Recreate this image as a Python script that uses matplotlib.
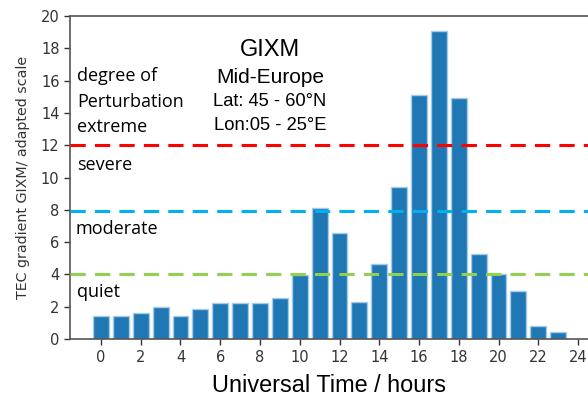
import matplotlib
matplotlib.use("Agg")
import matplotlib.pyplot as plt

hours = list(range(24))
values = [1.42, 1.42, 1.6, 1.96, 1.42, 1.86, 2.23, 2.23, 2.23, 2.52, 3.98, 8.1,
          6.58, 2.31, 4.62, 9.43, 15.1, 19.07, 14.92, 5.26, 4.04, 2.97, 0.78, 0.41]
thresholds = [12.0, 7.93, 4.02]
threshold_colors = ["#ff0000", "#00b0f0", "#92d050"]
xticks = list(range(0, 25, 2))
yticks = list(range(0, 21, 2))

fig = plt.figure(figsize=(5.88, 3.98), dpi=100)
ax = fig.add_axes([0.119, 0.148, 0.881, 0.812])

ax.bar(hours, values, width=0.8, color="#1f77b4", edgecolor="#a6cbe8", linewidth=1.0, zorder=2)
for yv, c in zip(thresholds, threshold_colors):
    ax.axhline(yv, color=c, linestyle=(0, (5, 3)), linewidth=2.2, zorder=3)

ax.set_xlim(-1.56, 24.5)
ax.set_ylim(0, 20)
ax.set_xticks(xticks)
ax.set_yticks(yticks)
ax.tick_params(colors="#333333", labelsize=10.5, length=4, width=1)
for lab in ax.get_xticklabels() + ax.get_yticklabels():
    lab.set_color("#333333")
ax.spines["right"].set_visible(False)
for s in ["left", "top", "bottom"]:
    ax.spines[s].set_color("#555555")
    ax.spines[s].set_linewidth(1.2)

ax.set_ylabel("TEC gradient GIXM/ adapted scale", fontsize=10.3, color="#333333", labelpad=8)
ax.set_xlabel("Universal Time / hours", fontsize=16.9, family="Liberation Sans", color="#000000", labelpad=7)

fam = "Open Sans"
fs = 13
ax.text(-1.2, 16.3, "degree of", fontsize=fs, family=fam, va="center")
ax.text(-1.2, 14.7, "Perturbation", fontsize=fs, family=fam, va="center")
ax.text(-1.2, 13.1, "extreme", fontsize=fs, family=fam, va="center")
ax.text(-1.2, 10.8, "severe", fontsize=fs, family=fam, va="center")
ax.text(-1.3, 6.8, "moderate", fontsize=fs, family=fam, va="center")
ax.text(-1.2, 2.9, "quiet", fontsize=fs, family=fam, va="center")

cx = 8.5
ax.text(cx, 17.9, "GIXM", fontsize=17, family="Liberation Sans", ha="center", va="center")
ax.text(cx, 16.2, "Mid-Europe", fontsize=15, family="Liberation Sans", ha="center", va="center")
ax.text(cx, 14.7, "Lat: 45 - 60°N", fontsize=13.2, family="Liberation Sans", ha="center", va="center")
ax.text(cx, 13.2, "Lon:05 - 25°E", fontsize=13.2, family="Liberation Sans", ha="center", va="center")

fig.savefig("out.png", dpi=100)
